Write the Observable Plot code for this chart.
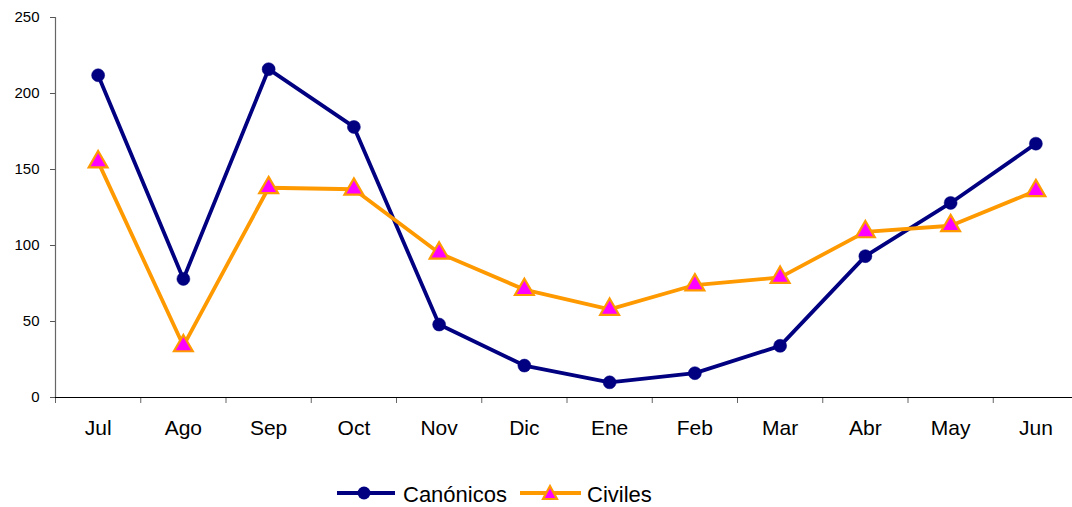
<!DOCTYPE html>
<html><head><meta charset="utf-8">
<script src="https://cdn.jsdelivr.net/npm/d3@7"></script>
<script src="https://cdn.jsdelivr.net/npm/@observablehq/plot@0.6"></script>
<style>
html,body{margin:0;padding:0;background:#fff;overflow:hidden;width:1072px;height:507px;}
#legend{height:47px;position:relative;}
</style></head>
<body>
<div id="chart"></div>
<div id="legend"></div>
<script>
const months = ["Jul","Ago","Sep","Oct","Nov","Dic","Ene","Feb","Mar","Abr","May","Jun"];
const canonicos = [212, 78, 216, 178, 48, 21, 10, 16, 34, 93, 128, 167];
const civiles = [155, 34, 138, 137, 95, 71, 58, 74, 79, 109, 113, 136];
const yTicks = [0, 50, 100, 150, 200, 250];
const seriesNames = ["Canónicos", "Civiles"];

const idx = months.map((m, i) => i);
const bounds = months.map((m, i) => i - 0.5).concat([months.length - 0.5]);
const dataCan = months.map((m, i) => ({i, v: canonicos[i]}));
const dataCiv = months.map((m, i) => ({i, v: civiles[i]}));

const navy = "#000080", orange = "#FF9900", magenta = "#FF00FF";
const font = "'Liberation Sans', Arial, sans-serif";

const plot = Plot.plot({
  width: 1072, height: 460,
  marginLeft: 55, marginRight: -6, marginTop: 17, marginBottom: 63,
  style: {fontFamily: font, background: "#fff", overflow: "hidden"},
  x: {type: "linear", domain: [-0.5, months.length - 0.5]},
  y: {domain: [0, 250]},
  marks: [
    Plot.axisY({ticks: yTicks, tickSize: 5, tickPadding: 11, fontSize: 15, fontFamily: font, label: null, stroke: "#555", fill: "#000"}),
    Plot.axisX({ticks: bounds, tickSize: 6, tickFormat: () => "", label: null, stroke: "#666"}),
    Plot.axisX({ticks: idx, tickSize: 0, tickPadding: 23, tickFormat: (d) => months[d], fontSize: 21, fontFamily: font, label: null, fill: "#000"}),
    Plot.ruleX([-0.5], {stroke: "#666", strokeWidth: 1.2}),
    Plot.ruleY([0], {stroke: "#000", strokeWidth: 1.2}),
    Plot.line(dataCan, {x: "i", y: "v", stroke: navy, strokeWidth: 3.8}),
    Plot.dot(dataCan, {x: "i", y: "v", fill: navy, r: 6.5, stroke: navy, strokeWidth: 0.5}),
    Plot.line(dataCiv, {x: "i", y: "v", stroke: orange, strokeWidth: 3.8}),
    Plot.dot(dataCiv, {x: "i", y: "v", symbol: "triangle", fill: magenta, stroke: orange, strokeWidth: 2.2, r: 7})
  ]
});
document.getElementById("chart").appendChild(plot);

const leg = document.getElementById("legend");
leg.innerHTML = `
<svg width="1072" height="47" style="position:absolute;left:0;top:0;font-family:${font}">
  <line x1="337" x2="395" y1="33" y2="33" stroke="${navy}" stroke-width="3.8"/>
  <circle cx="364" cy="33" r="6.5" fill="${navy}"/>
  <text x="403" y="42" font-size="22" fill="#000">${seriesNames[0]}</text>
  <line x1="520" x2="581" y1="33" y2="33" stroke="${orange}" stroke-width="3.8"/>
  <path d="M550,26 L557,39 L543,39 Z" fill="${magenta}" stroke="${orange}" stroke-width="2.2"/>
  <text x="587" y="42" font-size="22" fill="#000">${seriesNames[1]}</text>
</svg>`;
</script>
</body></html>
